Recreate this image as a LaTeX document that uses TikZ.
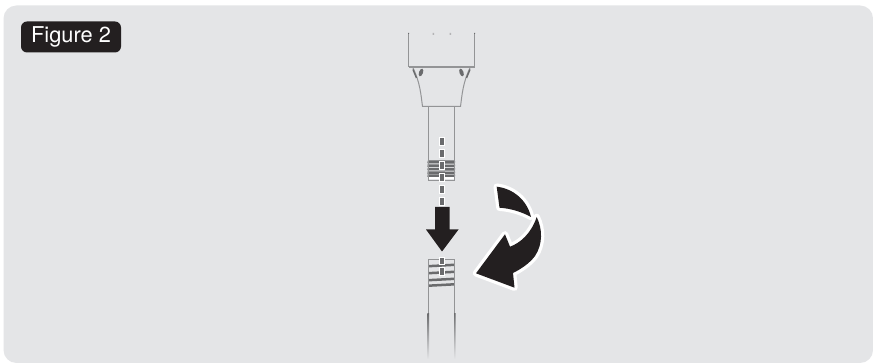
\documentclass[tikz,border=0pt]{standalone}
\usepackage{fontspec}
\setmainfont{TeX Gyre Heros}
\usetikzlibrary{fadings}
\definecolor{panel}{HTML}{E4E5E7}
\definecolor{ink}{HTML}{231F20}
\definecolor{partline}{HTML}{939496}
\definecolor{thread}{HTML}{6A6B6D}
\tikzset{
  panelbox/.style={fill=panel,draw=none,rounded corners=13pt},
  badge/.style={fill=ink,text=white,rounded corners=6pt,inner sep=0pt,minimum width=100pt,minimum height=31pt,font=\fontsize{21.8}{21.8}\selectfont},
  part/.style={draw=partline,line width=1pt},
  guidedash/.style={fill=thread,draw=white,line width=1.3pt},
  blackarrow/.style={fill=ink,draw=none},
  halo/.style={fill=white,draw=white,line width=6.5pt,line join=round},
}
\begin{document}
\begin{tikzpicture}[x=1pt,y=-1pt]
\useasboundingbox (0,0) rectangle (873,363);
\fill[white] (0,0) rectangle (873,363);
\path[panelbox] (3.5,5.5) rectangle (873,363);
\node[badge] (fig) at (71,37) {Figure 2};
% upper housing
\draw[part] (408.5,34) -- (408.5,66.5) -- (474.5,66.5) -- (474.5,34);
\draw[partline,line width=1.8pt] (408.5,67) -- (474.5,67);
\fill[partline!60!panel] (432.5,33) rectangle +(1.5,2) (449.5,33) rectangle +(1.5,2);
\fill[thread] (408,33) rectangle +(1,1) (474,33) rectangle +(1,1);
% flare
\draw[part] (413,68) .. controls (420,82) and (421,95) .. (422.5,106.5) -- (460.5,106.5) .. controls (462,95) and (463,82) .. (470,68);
\draw[thread,line width=1.4pt] (413,69.5) -- (416.5,78);
\draw[thread,line width=1.4pt] (470,69.5) -- (466.5,78);
\fill[thread] (421,72.5) ellipse [x radius=2,y radius=4,rotate=-20];
\fill[thread] (461.5,72.5) ellipse [x radius=2,y radius=4,rotate=20];
% shaft and upper thread
\draw[part] (428.5,106.5) -- (428.5,160) (454.5,106.5) -- (454.5,160);
\draw[partline,line width=0.8pt] (428.5,160) -- (454.5,160);
\foreach \y in {162,165.5,169,172.5,175.5}{
  \draw[thread,line width=2.5pt] (427.5,\y) -- (455,\y+0.4);
}
\draw[part] (428.5,160) -- (428.5,181) -- (454,181) -- (454,160);
\draw[white,line width=1.6pt] (429,178) -- (454,178);
% lower tube
\draw[partline,line width=0.8pt] (428.5,259.5) -- (454.5,259.5);
\foreach \y in {265.5,272.5,279.5,285}{
  \draw[thread,line width=2.5pt] (428.5,\y+0.7) -- (454.5,\y-0.7);
}
\draw[part] (428.5,259.5) -- (428.5,313) (454.5,259.5) -- (454.5,313);
\path[left color=thread,right color=thread,path fading=south] (427.3,313) rectangle (429,359) (454,313) rectangle (455.7,359);
% guide dashes
\foreach \y in {141.5,153.5,165.5,177.5,189.5,201.5,261,271.5}{
  \path[guidedash] (439.7,\y-3.7) rectangle (444.8,\y+3.7);
}
% down arrow
\path[blackarrow] (435,207) -- (449.5,207) -- (449.5,229.5) -- (458.5,229.5) -- (442,251.5) -- (426,229.5) -- (435,229.5) -- cycle;
% bent arrow
\def\upperarrow{(496.7,186.7) .. controls (513,188.5) and (527,200) .. (531,217) .. controls (522,212) and (511,208.5) .. (499.5,207.7) -- cycle}
\def\lowerarrow{(536.7,217) .. controls (542.5,229) and (543,244) .. (535,256) .. controls (529,264) and (520,269.5) .. (513,273) -- (514.5,287.7) -- (476,273.3) -- (505,234.3) -- (510,246.7) .. controls (520,243) and (531,234) .. (536.7,217) -- cycle}
\path[halo] \lowerarrow;
\path[halo] \upperarrow;
\path[blackarrow] \lowerarrow;
\path[blackarrow] \upperarrow;
\end{tikzpicture}
\end{document}
